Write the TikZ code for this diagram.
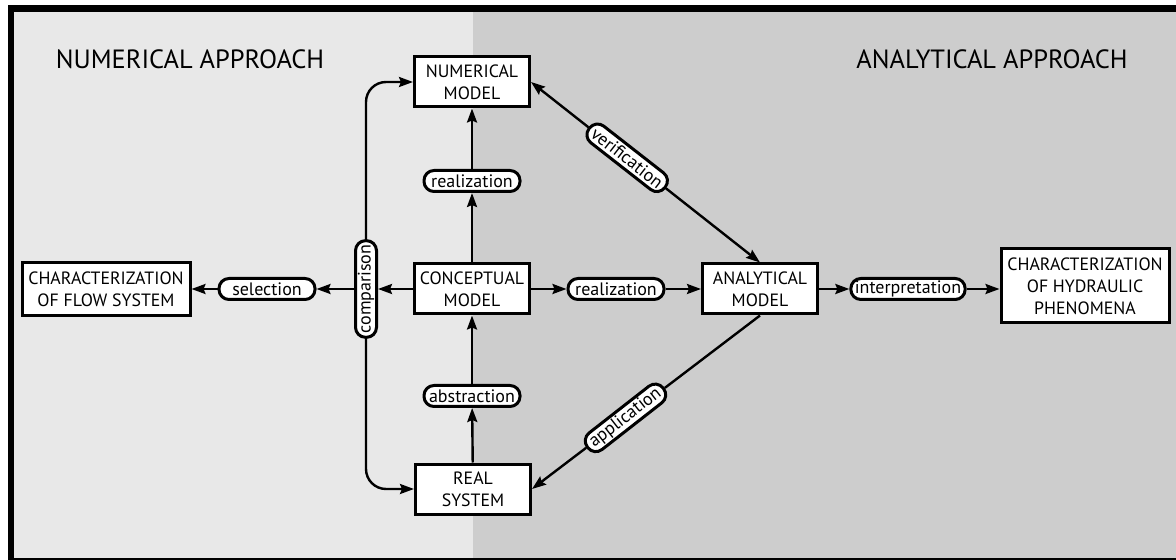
\documentclass[tikz,border=0pt]{standalone}
\usepackage{fontspec}
\setmainfont{PT Sans}
\usepackage{tikz}
\usetikzlibrary{arrows.meta,calc}
\definecolor{numbg}{HTML}{E8E8E8}
\definecolor{anabg}{HTML}{CDCDCD}
\tikzset{
>={Stealth[length=7pt, width=5pt, inset=1pt]}, % filled arrow heads
x=0.5pt, y=-0.5pt, % one unit is one pixel of the sketch
box/.style={draw, line width=1.5pt, fill=white, align=center, inner sep=1pt,
  minimum width=57.5pt, minimum height=25pt, font=\fontsize{8.9}{11}\selectfont}, % the models
lab/.style={draw, line width=1.5pt, fill=white, rounded corners=5pt, inner xsep=2pt, inner ysep=0pt,
  minimum width=48pt, minimum height=10.5pt, font=\fontsize{9}{10}\selectfont}, % the steps
link/.style={->, line width=1.2pt}, % connectors
title/.style={anchor=base, font=\fontsize{13.2}{15}\selectfont},
}
\begin{document}
\begin{tikzpicture}
		\useasboundingbox (0,0) rectangle (1176,560);
		\clip (0,0) rectangle (1176,560);
		% frame and the two halves
		\fill[black] (8,5) rectangle (1190,570);
		\fill[numbg] (14,12) rectangle (473,558);
		\fill[anabg] (473,12) rectangle (1190,558);

		\node[title] (numtitle) at (190,69) {NUMERICAL APPROACH};
		\node[title] (anatitle) at (992,69) {ANALYTICAL APPROACH};

		\node[box] (conc) at (472,289) {CONCEPTUAL\\MODEL};
		\node[box] (num) at (472,82) {NUMERICAL\\MODEL};
		\node[box] (real) at (473,489) {REAL\\SYSTEM};
		\node[box] (ana) at (760,289) {ANALYTICAL\\MODEL};
		\node[box, minimum width=84pt, minimum height=26.5pt] (flow) at (106,289) {CHARACTERIZATION\\OF FLOW SYSTEM};
		\node[box, minimum width=84pt, minimum height=37pt] (hyd) at (1085,286) {CHARACTERIZATION\\OF HYDRAULIC\\PHENOMENA};

		\node[lab] (real1) at (472,181) {realization};
		\node[lab] (abs) at (472,396) {abstraction};
		\node[lab] (real2) at (616,289) {realization};
		\node[lab] (interp) at (908,289) {interpretation};
		\node[lab] (sel) at (267,289) {selection};
		\node[lab, rotate=90] (comp) at (366,289) {comparison};
		\node[lab, rotate=-38] (ver) at ($(num.east)!0.42!(ana.north)$) {verification};
		\node[lab, rotate=38] (app) at ($(ana.south)!0.59!(real.east)$) {application};

		\draw[link] (conc) -- (real1);
		\draw[link] (real1) -- (num);
		\draw[link] (real) -- (abs);
		\draw[link] (abs) -- (conc);
		\draw[link] (conc) -- (real2);
		\draw[link] (real2) -- (ana);
		\draw[link] (ana) -- (interp);
		\draw[link] (interp) -- (interp -| hyd.west);
		\draw[link] (conc) -- (comp);
		\draw[link] (comp) -- (sel);
		\draw[link] (sel) -- (flow);
		\draw[link, rounded corners=10pt] (comp.east) |- (num.west);
		\draw[link, rounded corners=10pt] (comp.west) |- (real.west);
		\draw[link] (ver) -- (num.east);
		\draw[link] (ver) -- (ana.north);
		\draw[line width=1.2pt] (ana.south) -- (app);
		\draw[link] (app) -- (real.east);
	\end{tikzpicture}
\end{document}
